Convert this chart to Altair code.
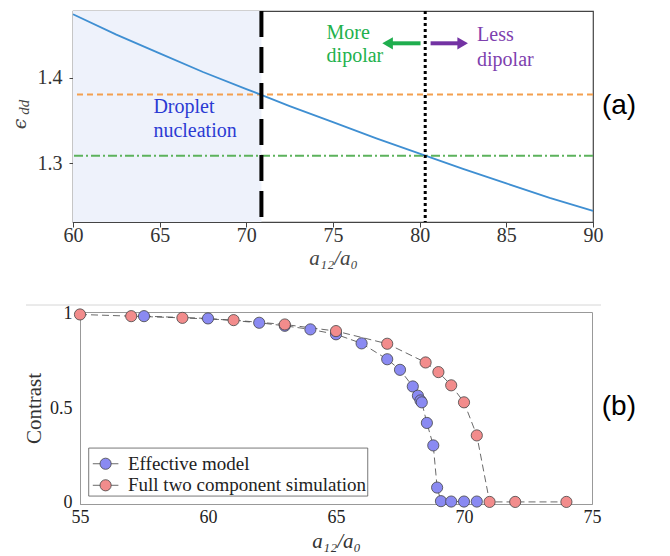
import altair as alt
import pandas as pd

# ---------------- Panel (a) data ----------------
a12_line = [60, 62.5, 65, 67.5, 70, 72.5, 75, 77.5, 80, 82.5, 85, 87.5, 90]
eps_line = [1.475, 1.451, 1.429, 1.407, 1.387, 1.367, 1.348, 1.329, 1.311, 1.293, 1.276, 1.259, 1.2436]
eps_orange = 1.3805
eps_green = 1.3086
a12_nucleation = 70.87
a12_dotted = 80.32
a_xdomain = [60, 90]
a_ydomain = [1.2306, 1.4788]
a_xticks = [60, 65, 70, 75, 80, 85, 90]
a_yticks = [1.3, 1.4]

# ---------------- Panel (b) data ----------------
eff_x = [57.5, 60, 62, 63, 64, 65, 66, 67, 67.5, 68, 68.2, 68.3, 68.35, 68.55, 68.8, 68.95, 69.1, 69.5, 70, 70.5]
eff_y = [0.986, 0.974, 0.951, 0.935, 0.916, 0.89, 0.842, 0.758, 0.702, 0.614, 0.565, 0.54, 0.53, 0.421, 0.302, 0.079, 0.007, 0.005, 0.005, 0.005]
full_x = [55, 57, 59, 61, 63, 65, 67, 68.5, 69, 69.5, 70, 70.5, 71, 72, 74]
full_y = [0.995, 0.986, 0.977, 0.965, 0.942, 0.907, 0.84, 0.741, 0.69, 0.62, 0.53, 0.355, 0.003, 0.003, 0.003]
b_xdomain = [55, 75]
b_ydomain = [-0.008, 1.008]
b_xticks = [55, 60, 65, 70, 75]
b_yticks = [0, 0.5, 1]
series_names = ["Effective model", "Full two component simulation"]
series_fill = ["#8a8af2", "#f28c8c"]

SERIF = "Liberation Serif"

# ---------------- Panel (a) ----------------
xa = alt.Scale(domain=a_xdomain, nice=False, zero=False)
ya = alt.Scale(domain=a_ydomain, nice=False, zero=False)
xa_axis = alt.Axis(values=a_xticks, title="a₁₂/a₀", titleFont=SERIF, titleFontStyle="italic",
                   titleFontWeight="normal", titleFontSize=21, titleColor="#444",
                   labelFont=SERIF, labelFontSize=20, labelColor="#333", domainColor="#444",
                   tickColor="#444", tickSize=5, labelPadding=-2, titlePadding=2, grid=False,
                   format="d", labelFlush=False)
ya_axis = alt.Axis(values=a_yticks, title=None, labelFont=SERIF, labelFontSize=20, labelColor="#333",
                   domainColor="#444", tickColor="#444", tickSize=4, labelPadding=7, grid=False,
                   format=".1f")

def XA(f="x"):
    return alt.X(f"{f}:Q", scale=xa, axis=xa_axis)

def YA(f="y"):
    return alt.Y(f"{f}:Q", scale=ya, axis=ya_axis)

shade = alt.Chart(pd.DataFrame({"x": [a_xdomain[0]], "x2": [a12_nucleation],
                                "y": [a_ydomain[0]], "y2": [a_ydomain[1]]})).mark_rect(
    color="#eef2fb").encode(x=XA(), x2="x2:Q", y=YA(), y2="y2:Q")

orange = alt.Chart(pd.DataFrame({"y": [eps_orange]})).mark_rule(
    color="#f4a04f", strokeWidth=2, strokeDash=[6, 4]).encode(y=YA())
green = alt.Chart(pd.DataFrame({"y": [eps_green]})).mark_rule(
    color="#5cb25c", strokeWidth=2, strokeDash=[9, 3, 2, 3]).encode(y=YA())

curve = alt.Chart(pd.DataFrame({"x": a12_line, "y": eps_line})).mark_line(
    color="#3f8fd2", strokeWidth=1.8).encode(x=XA(), y=YA())

vdash = alt.Chart(pd.DataFrame({"x": [a12_nucleation]})).mark_rule(
    color="black", strokeWidth=4, strokeDash=[26, 10]).encode(x=XA())
vdot = alt.Chart(pd.DataFrame({"x": [a12_dotted]})).mark_rule(
    color="black", strokeWidth=3, strokeDash=[3, 3]).encode(x=XA())

arrow_y = 1.4408
arrows = alt.Chart(pd.DataFrame({"x": [80.05, 80.63], "x2": [78.32, 82.30], "y": [arrow_y, arrow_y],
                                 "c": ["#1fae4e", "#7332a3"]})).mark_rule(strokeWidth=4).encode(
    x=XA(), x2="x2:Q", y=YA(), color=alt.Color("c:N", scale=None))
head_l = alt.Chart(pd.DataFrame({"x": [78.15], "y": [arrow_y]})).mark_point(
    shape="triangle-left", filled=True, size=150, color="#1fae4e", opacity=1).encode(x=XA(), y=YA())
head_r = alt.Chart(pd.DataFrame({"x": [82.48], "y": [arrow_y]})).mark_point(
    shape="triangle-right", filled=True, size=150, color="#7332a3", opacity=1).encode(x=XA(), y=YA())

labels_a = pd.DataFrame({
    "x": [64.64, 64.64, 74.63, 74.63, 83.31, 83.31],
    "y": [1.3659, 1.3376, 1.4529, 1.4259, 1.4509, 1.4215],
    "t": ["Droplet", "nucleation", "More", "dipolar", "Less", "dipolar"],
    "c": ["#2b3bd3", "#2b3bd3", "#22b14c", "#22b14c", "#7e3fae", "#7e3fae"],
})
texts_a = alt.Chart(labels_a).mark_text(align="left", baseline="middle", font=SERIF, fontSize=20).encode(
    x=XA(), y=YA(), text="t:N", color=alt.Color("c:N", scale=None))

eps_title = alt.Chart(pd.DataFrame({"x": [56.97], "y": [1.3459], "t": ["ϵ"]})).mark_text(
    angle=270, align="center", baseline="middle", font="DejaVu Serif", fontStyle="italic",
    fontSize=19, color="#444").encode(x=XA(), y=YA(), text="t:N")
dd_title = alt.Chart(pd.DataFrame({"x": [57.2], "y": [1.3655], "t": ["dd"]})).mark_text(
    angle=270, align="center", baseline="middle", font=SERIF, fontStyle="italic",
    fontSize=15, color="#444").encode(x=XA(), y=YA(), text="t:N")

tag_a = alt.Chart(pd.DataFrame({"x": [91.5], "y": [1.367], "t": ["(a)"]})).mark_text(
    align="center", baseline="middle", font="Liberation Sans", fontSize=28, color="black").encode(
    x=XA(), y=YA(), text="t:N")

panel_a = alt.layer(shade, orange, green, curve, vdash, vdot, arrows, head_l, head_r,
                    texts_a, eps_title, dd_title, tag_a).properties(
    width=520, height=211, view=alt.ViewBackground(stroke="#444", strokeWidth=1.2))

# ---------------- Panel (b) ----------------
xb = alt.Scale(domain=b_xdomain, nice=False, zero=False)
yb = alt.Scale(domain=b_ydomain, nice=False, zero=False)
xb_axis = alt.Axis(values=b_xticks, title="a₁₂/a₀", titleFont=SERIF, titleFontStyle="italic",
                   titleFontWeight="normal", titleFontSize=21, titleColor="#333",
                   labelFont=SERIF, labelFontSize=18, labelColor="#222", domainColor="#999",
                   ticks=False, labelPadding=4, titlePadding=4, grid=False, format="d",
                   labelFlush=False)
yb_axis = alt.Axis(values=b_yticks, title="Contrast", titleFont=SERIF, titleFontWeight="normal",
                   titleFontSize=21, titleColor="#333", labelFont=SERIF, labelFontSize=18,
                   labelColor="#222", domainColor="#999", ticks=False, labelPadding=8,
                   titlePadding=5, grid=False, format="~g")

def XB(f="x"):
    return alt.X(f"{f}:Q", scale=xb, axis=xb_axis)

def YB(f="y"):
    return alt.Y(f"{f}:Q", scale=yb, axis=yb_axis)

eff_df = pd.DataFrame({"x": eff_x, "y": eff_y})
full_df = pd.DataFrame({"x": full_x, "y": full_y})

def dline(df):
    return alt.Chart(df).mark_line(color="#444", strokeWidth=0.8, strokeDash=[7, 4]).encode(x=XB(), y=YB())

def dots(df, fill):
    return alt.Chart(df).mark_point(shape="circle", filled=True, size=125, fill=fill, fillOpacity=1,
                                    stroke="#444", strokeWidth=0.8, opacity=1).encode(x=XB(), y=YB())

sep = alt.Chart(pd.DataFrame({"x": [52.89], "x2": [75.35], "y": [1.045]})).mark_rule(
    color="#d6d6d6", strokeWidth=1, clip=False).encode(x=XB(), x2="x2:Q", y=YB())

leg_box = alt.Chart(pd.DataFrame({"x": [55.34], "x2": [66.24], "y": [0.034], "y2": [0.288]})).mark_rect(
    fill="white", stroke="#555", strokeWidth=0.8).encode(x=XB(), x2="x2:Q", y=YB(), y2="y2:Q")
leg_rows_y = [0.205, 0.091]
leg_lines = alt.Chart(pd.DataFrame({"x": [55.5, 55.5], "x2": [56.5, 56.5], "y": leg_rows_y})).mark_rule(
    color="#444", strokeWidth=0.8).encode(x=XB(), x2="x2:Q", y=YB())
leg_dots = alt.Chart(pd.DataFrame({"x": [56.0, 56.0], "y": leg_rows_y, "c": series_fill})).mark_point(
    shape="circle", filled=True, size=125, fillOpacity=1, stroke="#444", strokeWidth=0.8, opacity=1).encode(
    x=XB(), y=YB(), fill=alt.Fill("c:N", scale=None))
leg_text = alt.Chart(pd.DataFrame({"x": [56.875, 56.875], "y": leg_rows_y, "t": series_names})).mark_text(
    align="left", baseline="middle", font=SERIF, fontSize=19, color="#222").encode(
    x=XB(), y=YB(), text="t:N")

tag_b = alt.Chart(pd.DataFrame({"x": [76.05], "y": [0.505], "t": ["(b)"]})).mark_text(
    align="center", baseline="middle", font="Liberation Sans", fontSize=28, color="black").encode(
    x=XB(), y=YB(), text="t:N")

panel_b = alt.layer(sep, dline(eff_df), dline(full_df), dots(eff_df, series_fill[0]),
                    dots(full_df, series_fill[1]), leg_box, leg_lines, leg_dots, leg_text, tag_b).properties(
    width=512, height=192, view=alt.ViewBackground(stroke="#999", strokeWidth=1))

spacer = alt.Chart(pd.DataFrame({"v": [0]})).mark_point(opacity=0).encode(
    x=alt.X("v:Q", axis=None), y=alt.Y("v:Q", axis=None)).properties(
    width=6.5, height=192, view=alt.ViewBackground(stroke="transparent"))

row_b = alt.hconcat(spacer, panel_b, spacing=0, bounds="flush")

chart = alt.vconcat(panel_a, row_b, spacing=90, bounds="flush").properties(
    padding={"left": 2, "top": 0, "right": 5, "bottom": 0}
).configure_axis(labelFont=SERIF, titleFont=SERIF)

chart.save("out.html", embed_options={"renderer": "svg", "actions": False})
